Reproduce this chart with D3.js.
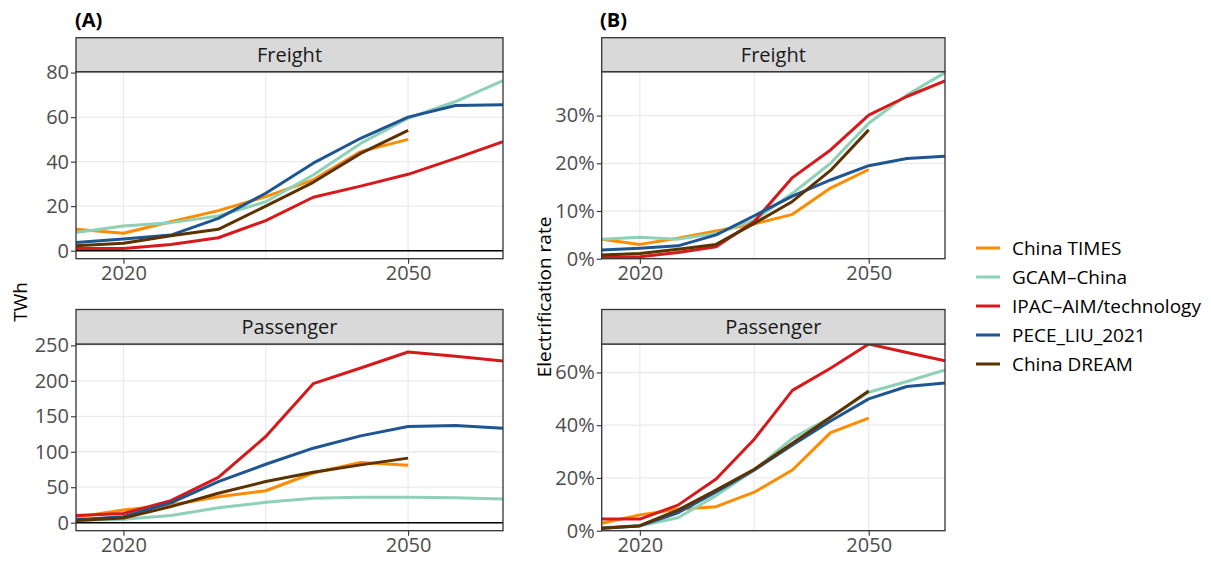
<!DOCTYPE html>
<html>
<head>
<meta charset="utf-8">
<script src="https://cdn.jsdelivr.net/npm/d3@7"></script>
<style>
  body { margin: 0; background: #fff; }
  text { font-family: "Open Sans", sans-serif; }
</style>
</head>
<body>
<svg id="chart" width="1211" height="562"></svg>
<script>
// model years and scenarios
const years = [2015, 2020, 2025, 2030, 2035, 2040, 2045, 2050, 2055, 2060];
const models = ["China TIMES", "GCAM\u2013China", "IPAC\u2013AIM/technology", "PECE_LIU_2021", "China DREAM"];
const colors = ["#ff8c00", "#8dd1b7", "#d7191c", "#1f5591", "#5c3200"];

// (A) electricity use, TWh  (order follows models)
const freightTwh = [
  [9.6, 7.8, 13, 18, 24.3, 31.8, 44.5, 50],
  [8.2, 11.1, 12.6, 15.6, 22, 34, 48.2, 59.5, 67, 76.4],
  [1, 1, 2.8, 5.8, 13.5, 24, 29, 34.3, 41.5, 49],
  [3.7, 5.2, 7, 14.5, 25.8, 39.3, 50.5, 60, 65.2, 65.5],
  [2.2, 3.3, 6.7, 9.6, 20, 30.7, 43.7, 54]
];
const passengerTwh = [
  [7.5, 18, 25, 36.7, 45, 70, 85, 81],
  [3, 5, 10, 21, 28.7, 34.4, 36, 36, 35, 33.5],
  [10, 13, 31, 64, 121.5, 196, 218, 240.6, 234.5, 228],
  [4, 8.5, 28, 58, 82.4, 105, 122.4, 135.6, 137, 133.2],
  [3, 6.6, 22.6, 41.4, 58, 71, 81.5, 91]
];

// (B) electrification rate, %
const freightRate = [
  [4.1, 3, 4.3, 5.8, 7.3, 9.3, 14.8, 18.7],
  [4.1, 4.5, 4.1, 5.3, 8.1, 13.7, 20, 28.4, 34.3, 39],
  [0.3, 0.4, 1.3, 2.5, 7.8, 17, 22.8, 30.1, 34, 37.3],
  [1.8, 2.2, 2.7, 5, 9, 13.1, 16.5, 19.5, 21, 21.5],
  [0.8, 1.1, 2, 3, 7.4, 12, 18.5, 27]
];
const passengerRate = [
  [2.8, 6, 8.1, 9.1, 14.6, 23, 37.2, 42.7],
  [1.1, 1.9, 4.9, 13.3, 23, 35, 43, 52.5, 56.6, 61],
  [4.4, 4.4, 9.7, 19.6, 34.7, 53.2, 61.6, 70.8, 67.6, 64.4],
  [0.9, 1.8, 6.8, 14.7, 23, 32.5, 41.6, 50, 54.7, 56],
  [0.9, 1.9, 7.8, 15.4, 23.3, 33.2, 43, 53]
];

// axis ticks
const xTicks = [2020, 2050];
const xGrid = [2020, 2035, 2050];
const freightTwhTicks = [0, 20, 40, 60, 80];
const passengerTwhTicks = [0, 50, 100, 150, 200, 250];
const freightRateTicks = [0, 10, 20, 30];
const passengerRateTicks = [0, 20, 40, 60];

const svg = d3.select("#chart");

const rows = {
  top: { stripTop: 37.7, stripBottom: 71.7, plotBottom: 258.7 },
  bottom: { stripTop: 309.5, stripBottom: 344, plotBottom: 530.7 }
};
const cols = {
  A: { x0: 76, x1: 503 },
  B: { x0: 601.7, x1: 945 }
};

let clipId = 0;

function drawPanel(col, row, opts) {
  const g = svg.append("g");
  const xScale = d3.scaleLinear().domain([2015, 2060]).range([col.x0, col.x1]);
  const yScale = d3.scaleLinear().domain(opts.domain).range([row.plotBottom, row.stripBottom]);

  // background grid
  g.append("g").selectAll("line.gx")
    .data(xGrid).join("line")
    .attr("x1", d => xScale(d)).attr("x2", d => xScale(d))
    .attr("y1", row.stripBottom).attr("y2", row.plotBottom)
    .attr("stroke", "#ebebeb").attr("stroke-width", 1.3);
  g.append("g").selectAll("line.gy")
    .data(opts.ticks).join("line")
    .attr("x1", col.x0).attr("x2", col.x1)
    .attr("y1", d => yScale(d)).attr("y2", d => yScale(d))
    .attr("stroke", "#ebebeb").attr("stroke-width", 1.3);

  if (opts.zeroLine) {
    g.append("line")
      .attr("x1", col.x0).attr("x2", col.x1)
      .attr("y1", yScale(0)).attr("y2", yScale(0))
      .attr("stroke", "#000").attr("stroke-width", 1.6);
  }

  // clip lines to the panel
  const id = "clip" + (clipId++);
  svg.append("clipPath").attr("id", id)
    .append("rect")
    .attr("x", col.x0).attr("y", row.stripBottom)
    .attr("width", col.x1 - col.x0).attr("height", row.plotBottom - row.stripBottom);

  const line = d3.line()
    .x((d, i) => xScale(years[i]))
    .y(d => yScale(d));

  g.append("g").attr("clip-path", `url(#${id})`)
    .selectAll("path")
    .data(opts.data).join("path")
    .attr("d", d => line(d))
    .attr("fill", "none")
    .attr("stroke", (d, i) => colors[i])
    .attr("stroke-width", 3)
    .attr("stroke-linejoin", "round");

  // panel border
  g.append("rect")
    .attr("x", col.x0).attr("y", row.stripBottom)
    .attr("width", col.x1 - col.x0).attr("height", row.plotBottom - row.stripBottom)
    .attr("fill", "none").attr("stroke", "#333").attr("stroke-width", 1.3);

  // strip
  g.append("rect")
    .attr("x", col.x0).attr("y", row.stripTop)
    .attr("width", col.x1 - col.x0).attr("height", row.stripBottom - row.stripTop)
    .attr("fill", "#d9d9d9").attr("stroke", "#333").attr("stroke-width", 1.3);
  g.append("text")
    .attr("x", (col.x0 + col.x1) / 2)
    .attr("y", (row.stripTop + row.stripBottom) / 2)
    .attr("dy", "0.35em")
    .attr("text-anchor", "middle")
    .attr("font-size", 20)
    .attr("fill", "#1a1a1a")
    .text(opts.label);

  // axes
  const yAxis = d3.axisLeft(yScale).tickValues(opts.ticks).tickSize(5).tickPadding(2)
    .tickFormat(opts.fmt);
  const ya = g.append("g").attr("transform", `translate(${col.x0},0)`).call(yAxis);
  ya.select(".domain").remove();
  ya.selectAll("line").attr("stroke", "#333").attr("stroke-width", 1.1);
  ya.selectAll("text").attr("font-size", 20).attr("fill", "#4d4d4d")
    .attr("font-family", "Open Sans, sans-serif");

  const xAxis = d3.axisBottom(xScale).tickValues(xTicks).tickSize(5).tickPadding(2)
    .tickFormat(d3.format("d"));
  const xa = g.append("g").attr("transform", `translate(0,${row.plotBottom})`).call(xAxis);
  xa.select(".domain").remove();
  xa.selectAll("line").attr("stroke", "#333").attr("stroke-width", 1.1);
  xa.selectAll("text").attr("font-size", 20).attr("fill", "#4d4d4d")
    .attr("font-family", "Open Sans, sans-serif");
}

const twhFmt = d3.format("d");
const pctFmt = d => d + "%";

drawPanel(cols.A, rows.top, { label: "Freight", domain: [-3.6, 80.4], ticks: freightTwhTicks, fmt: twhFmt, data: freightTwh, zeroLine: true });
drawPanel(cols.A, rows.bottom, { label: "Passenger", domain: [-11.3, 251.9], ticks: passengerTwhTicks, fmt: twhFmt, data: passengerTwh, zeroLine: true });
drawPanel(cols.B, rows.top, { label: "Freight", domain: [0, 39.2], ticks: freightRateTicks, fmt: pctFmt, data: freightRate, zeroLine: false });
drawPanel(cols.B, rows.bottom, { label: "Passenger", domain: [0, 70.8], ticks: passengerRateTicks, fmt: pctFmt, data: passengerRate, zeroLine: false });

// panel tags
svg.append("text").attr("x", 75).attr("y", 27).attr("font-size", 20).attr("font-weight", "bold")
  .attr("fill", "#000").text("(A)");
svg.append("text").attr("x", 600).attr("y", 27).attr("font-size", 20).attr("font-weight", "bold")
  .attr("fill", "#000").text("(B)");

// axis titles
svg.append("text").attr("transform", "translate(27,302) rotate(-90)")
  .attr("text-anchor", "middle").attr("font-size", 19).attr("fill", "#000").text("TWh");
svg.append("text").attr("transform", "translate(551,297) rotate(-90)")
  .attr("text-anchor", "middle").attr("font-size", 19).attr("fill", "#000").text("Electrification rate");

// legend
const legend = svg.append("g").attr("transform", "translate(976,248)");
const items = legend.selectAll("g").data(models).join("g")
  .attr("transform", (d, i) => `translate(0,${i * 29})`);
items.append("line").attr("x1", 0).attr("x2", 24).attr("y1", 0).attr("y2", 0)
  .attr("stroke", (d, i) => colors[i]).attr("stroke-width", 3);
items.append("text").attr("x", 36).attr("dy", "0.35em").attr("font-size", 19)
  .attr("fill", "#000").text(d => d);
</script>
</body>
</html>
